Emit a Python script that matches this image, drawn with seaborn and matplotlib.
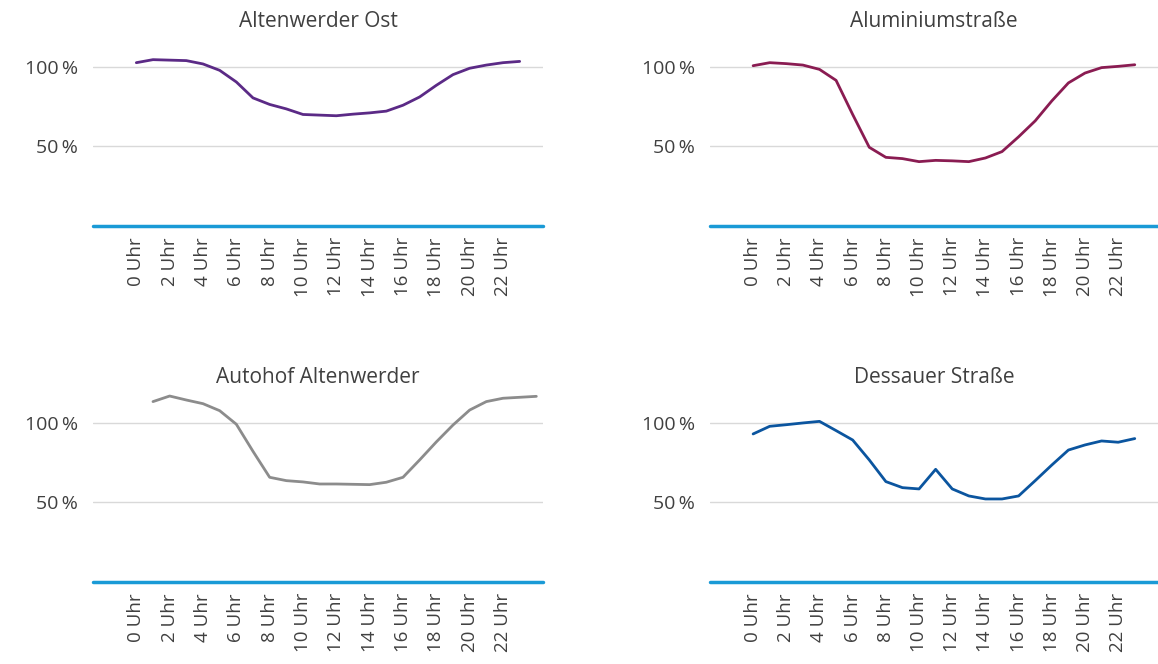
import matplotlib
matplotlib.use("Agg")
import matplotlib.pyplot as plt
import seaborn as sns
import numpy as np
import pandas as pd

# values in percent
titles = ["Altenwerder Ost", "Aluminiumstraße", "Autohof Altenwerder", "Dessauer Straße"]
colors = ["#5b2a86", "#8a1c52", "#8c8c8c", "#0b559f"]

hours_std = list(range(0, 24))
hours_autohof = list(range(1, 25))

altenwerder_ost = [102.5, 104.4, 104.1, 103.8, 101.7, 97.7, 90.4, 80.4, 76.3, 73.5,
                   70.0, 69.6, 69.2, 70.2, 71.0, 72.1, 75.8, 81.0, 88.3, 95.0,
                   99.0, 101.0, 102.5, 103.3]
aluminiumstrasse = [100.6, 102.5, 101.9, 101.0, 98.3, 91.4, 70.0, 49.4, 43.1, 42.3,
                    40.4, 41.2, 40.9, 40.4, 42.7, 46.7, 56.0, 66.0, 78.5, 89.8,
                    96.0, 99.4, 100.2, 101.2]
autohof = [113.2, 116.7, 114.2, 111.9, 107.5, 99.0, 82.0, 65.7, 63.6, 62.8,
           61.5, 61.5, 61.3, 61.1, 62.6, 65.7, 76.6, 87.9, 98.5, 107.9,
           113.2, 115.3, 115.9, 116.5]
dessauer = [92.9, 97.7, 98.7, 99.8, 100.8, 95.0, 89.1, 76.6, 63.0, 59.2,
            58.4, 70.7, 58.4, 54.0, 52.1, 52.1, 54.0, 63.6, 73.4, 82.8,
            86.0, 88.5, 87.7, 90.0]

tick_hours = list(range(0, 24, 2))
tick_labels = [f"{h} Uhr" for h in tick_hours]
y_ticks = [50, 100]
y_labels = ["50\u2009%", "100\u2009%"]

series = [(hours_std, altenwerder_ost), (hours_std, aluminiumstrasse),
          (hours_autohof, autohof), (hours_std, dessauer)]

sns.set_theme(style="white")
plt.rcParams["font.family"] = ["Open Sans", "DejaVu Sans"]
text_color = "#404040"

fig = plt.figure(figsize=(11.58, 6.64), dpi=100)
positions = [
    [0.0803, 0.6596, 0.3886, 0.2952],
    [0.6131, 0.6596, 0.3869, 0.2952],
    [0.0803, 0.1235, 0.3886, 0.2952],
    [0.6131, 0.1235, 0.3869, 0.2952],
]

for pos, title, color, (hrs, vals) in zip(positions, titles, colors, series):
    ax = fig.add_axes(pos)
    df = pd.DataFrame({"hour": hrs, "value": vals})
    sns.lineplot(data=df, x="hour", y="value", color=color, linewidth=2.0, ax=ax)
    ax.set_xlim(-2.6, 24.4)
    ax.set_ylim(0, 123)
    for y in y_ticks:
        ax.axhline(y, color="#d9d9d9", linewidth=1.0, zorder=0)
    ax.axhline(0, color="#1a9ad6", linewidth=2.5, zorder=3, clip_on=False)
    ax.set_yticks(y_ticks)
    ax.set_yticklabels(y_labels, fontsize=14, color=text_color)
    ax.set_xticks(tick_hours)
    ax.set_xticklabels(tick_labels, rotation=90, fontsize=13.5, color=text_color)
    ax.tick_params(axis="both", length=0, pad=8)
    ax.tick_params(axis="y", pad=11)
    ax.set_xlabel("")
    ax.set_ylabel("")
    ax.set_title(title, fontsize=15, color=text_color, pad=2)
    sns.despine(ax=ax, left=True, bottom=True)

fig.savefig("out.png", dpi=100)
